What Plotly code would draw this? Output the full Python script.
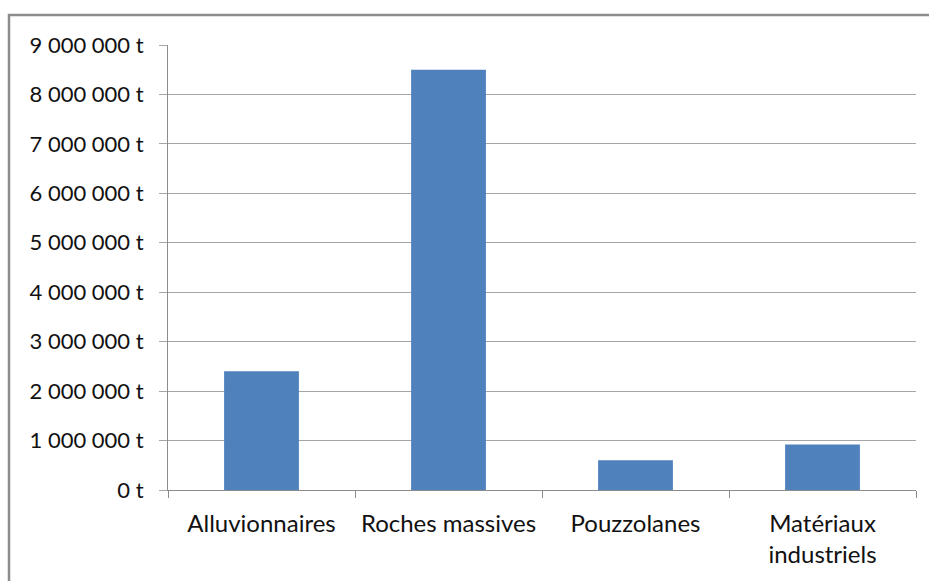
import plotly.graph_objects as go

# Production by material type (tonnes)
categories = ["Alluvionnaires", "Roches massives", "Pouzzolanes", "Matériaux<br>industriels"]
tonnages = [2400000, 8500000, 600000, 920000]
y_ticks = [0, 1000000, 2000000, 3000000, 4000000, 5000000, 6000000, 7000000, 8000000, 9000000]


def fmt_tonnes(v):
    return f"{v:,d}".replace(",", " ") + " t"


y_tick_text = [fmt_tonnes(v) for v in y_ticks]

W, H = 929, 581
L, R, T, B = 168, 13, 45, 91
pw, ph = W - L - R, H - T - B

fig = go.Figure(
    go.Bar(
        x=categories,
        y=tonnages,
        marker=dict(color="#4f81bd", line=dict(width=0)),
        width=0.4,
    )
)

family = "Lato, Noto Sans, sans-serif"
ytick_font = dict(family=family, size=22, color="#111111")
xtick_font = dict(family=family, size=24, color="#111111")

fig.update_layout(
    width=W,
    height=H,
    margin=dict(l=L, r=R, t=T, b=B),
    paper_bgcolor="white",
    plot_bgcolor="white",
    showlegend=False,
    font=xtick_font,
    xaxis=dict(
        showgrid=False,
        showline=True,
        linecolor="#8c8c8c",
        linewidth=1,
        ticks="outside",
        tickson="boundaries",
        ticklen=7,
        tickcolor="#8c8c8c",
        ticklabelstandoff=12,
        tickfont=xtick_font,
    ),
    yaxis=dict(
        range=[0, 9000000],
        tickvals=y_ticks,
        ticktext=y_tick_text,
        showgrid=True,
        gridcolor="#a6a6a6",
        gridwidth=1,
        showline=True,
        linecolor="#8c8c8c",
        linewidth=1,
        ticks="outside",
        ticklen=8,
        tickcolor="#a6a6a6",
        ticklabelstandoff=11,
        zeroline=False,
        tickfont=ytick_font,
    ),
    shapes=[
        dict(
            type="rect",
            xref="paper",
            yref="paper",
            x0=(9 - L) / pw,
            x1=(W + 10 - L) / pw,
            y0=(T + ph - (H + 10)) / ph,
            y1=(T + ph - 15) / ph,
            line=dict(color="#8c8c8c", width=2.5),
            fillcolor="rgba(0,0,0,0)",
            layer="below",
        )
    ],
)

fig.write_html("out.html")
